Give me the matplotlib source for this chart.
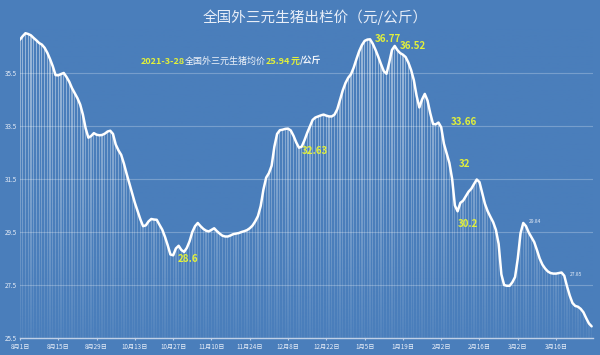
import numpy as np
import matplotlib
matplotlib.use("Agg")
import matplotlib.pyplot as plt
from matplotlib.colors import to_rgb
from matplotlib.offsetbox import TextArea, HPacker, AnnotationBbox

plt.rcParams['font.family'] = ['Noto Sans CJK SC', 'DejaVu Sans']

# daily price (yuan/kg), 8/1 -> 3/28
prices = [
    36.76, 36.89, 37.00, 36.97, 36.92, 36.82, 36.73, 36.63, 36.57, 36.45,
    36.26, 36.02, 35.75, 35.42, 35.41, 35.46, 35.50, 35.35, 35.17, 34.93,
    34.74, 34.55, 34.31, 33.93, 33.41, 33.06, 33.12, 33.23, 33.17, 33.15,
    33.16, 33.21, 33.29, 33.32, 33.20, 32.80, 32.58, 32.41, 32.08, 31.69,
    31.33, 30.97, 30.60, 30.29, 29.98, 29.72, 29.75, 29.90, 29.99, 29.97,
    29.96, 29.77, 29.59, 29.32, 29.00, 28.65, 28.62, 28.88, 28.98, 28.82,
    28.75, 28.90, 29.15, 29.50, 29.72, 29.84, 29.72, 29.62, 29.55, 29.52,
    29.58, 29.64, 29.53, 29.44, 29.36, 29.33, 29.33, 29.37, 29.42, 29.44,
    29.46, 29.50, 29.53, 29.57, 29.64, 29.74, 29.90, 30.10, 30.48, 31.10,
    31.55, 31.72, 32.00, 32.72, 33.20, 33.34, 33.36, 33.39, 33.40, 33.33,
    33.13, 32.88, 32.68, 32.72, 32.96, 33.24, 33.49, 33.73, 33.82, 33.86,
    33.90, 33.93, 33.89, 33.86, 33.86, 33.93, 34.13, 34.48, 34.84, 35.12,
    35.32, 35.45, 35.70, 36.02, 36.32, 36.55, 36.71, 36.76, 36.77, 36.60,
    36.37, 36.11, 35.83, 35.57, 35.47, 35.90, 36.37, 36.52, 36.36, 36.25,
    36.19, 36.10, 35.89, 35.61, 35.23, 34.64, 34.20, 34.50, 34.71, 34.46,
    33.98, 33.58, 33.56, 33.63, 33.45, 32.83, 32.46, 32.10, 31.50, 30.50,
    30.28, 30.60, 30.68, 30.85, 31.02, 31.13, 31.31, 31.48, 31.38, 30.97,
    30.56, 30.28, 30.07, 29.87, 29.58, 29.05, 27.90, 27.50, 27.47, 27.47,
    27.60, 27.80, 28.50, 29.45, 29.84, 29.72, 29.48, 29.30, 29.12, 28.82,
    28.50, 28.27, 28.12, 28.01, 27.95, 27.93, 27.93, 27.95, 27.97, 27.85,
    27.45, 27.10, 26.82, 26.71, 26.68, 26.60, 26.47, 26.25, 26.05, 25.94,
]

tick_labels = ['8月1日', '8月15日', '8月29日', '10月13日', '10月27日', '11月10日',
               '11月24日', '12月8日', '12月22日', '1月5日', '1月19日', '2月2日',
               '2月16日', '3月2日', '3月16日']
y_ticks = [25.5, 27.5, 29.5, 31.5, 33.5, 35.5]

# (index, text) for the highlighted values
big_labels = [(128, '36.77'), (137, '36.52'), (102, '32.63'), (153, '33.66'),
              (167, '32'), (160, '30.2'), (56, '28.6')]
small_labels = [(184, '29.84'), (199, '27.85')]

bg = '#4a7ebb'
yellow = '#e2f03a'

fig = plt.figure(figsize=(6, 3.55), dpi=100)
fig.patch.set_facecolor(bg)
ax = fig.add_axes([20 / 600, 1 - 338 / 355, 573 / 600, 313 / 355])
ax.set_facecolor(bg)

x = np.arange(len(prices))
ymin, ymax = 25.5, 37.31
xmin, xmax = 0, 209.5

ax.bar(x, np.array(prices) - ymin, bottom=ymin, width=0.45, color='white',
       alpha=0.45, linewidth=0, zorder=1)

# fade the bars toward the bottom
grad = np.zeros((256, 1, 4))
grad[..., :3] = to_rgb(bg)
t = np.linspace(0, 1, 256)
grad[:, 0, 3] = 0.9 * (1 - t) ** 1.3
ax.imshow(grad, extent=[xmin, xmax, ymin, ymax], origin='lower',
          aspect='auto', zorder=2)

for yv in y_ticks[1:]:
    ax.axhline(yv, color='white', alpha=0.25, lw=0.8, zorder=3)

ax.plot(x, prices, color='white', lw=1.8, zorder=5, solid_capstyle='round')

ax.set_xlim(xmin, xmax)
ax.set_ylim(ymin, ymax)

for s in ['top', 'right', 'left']:
    ax.spines[s].set_visible(False)
ax.spines['bottom'].set_color('#c0d0e6')
ax.spines['bottom'].set_linewidth(1.0)

ax.set_xticks(np.arange(0, 14 * len(tick_labels), 14))
ax.set_xticklabels(tick_labels)
ax.tick_params(axis='x', colors='#c0d0e6', direction='inout', length=3,
               width=0.8, labelsize=4.5, labelcolor='#e8eef8', pad=2)
ax.set_yticks(y_ticks)
ax.set_yticklabels([str(v) for v in y_ticks])
ax.tick_params(axis='y', length=0, labelsize=4.5, labelcolor='#e8eef8', pad=2)

offsets = {'36.77': (3.5, 0), '36.52': (3.5, 0), '32.63': (2, -2.5),
           '33.66': (9, 0.5), '32': (-13, 11), '30.2': (0, -9), '28.6': (3.5, -2.5)}
for i, t in big_labels:
    dx, dy = offsets[t]
    ax.annotate(t, (i, prices[i]), xytext=(dx, dy), textcoords='offset points',
                color=yellow, fontsize=7, fontweight='bold', ha='left',
                va='center', zorder=6)
for i, t in small_labels:
    ax.annotate(t, (i, prices[i]), xytext=(4, 1), textcoords='offset points',
                color='#e8eef8', fontsize=3.5, ha='left', va='center', zorder=6)

fig.text(0.525, 1 - 17 / 355, '全国外三元生猪出栏价（元/公斤）', color='#e8eef8',
         fontsize=10.5, ha='center', va='center')

parts = [('2021-3-28', yellow, 'bold'), ('全国外三元生猪均价', '#f0f4fa', 'normal'),
         ('25.94', yellow, 'bold'), ('元', yellow, 'bold'), ('/公斤', '#f0f4fa', 'bold')]
boxes = [TextArea(p, textprops=dict(color=c, fontsize=6.5, fontweight=w))
         for p, c, w in parts]
pack = HPacker(children=boxes, align='baseline', pad=0, sep=0)
ab = AnnotationBbox(pack, (231 / 600, 1 - 61 / 355), xycoords='figure fraction',
                    frameon=False, box_alignment=(0.5, 0.5))
fig.add_artist(ab)

fig.savefig('out.png', dpi=100, facecolor=fig.get_facecolor())
